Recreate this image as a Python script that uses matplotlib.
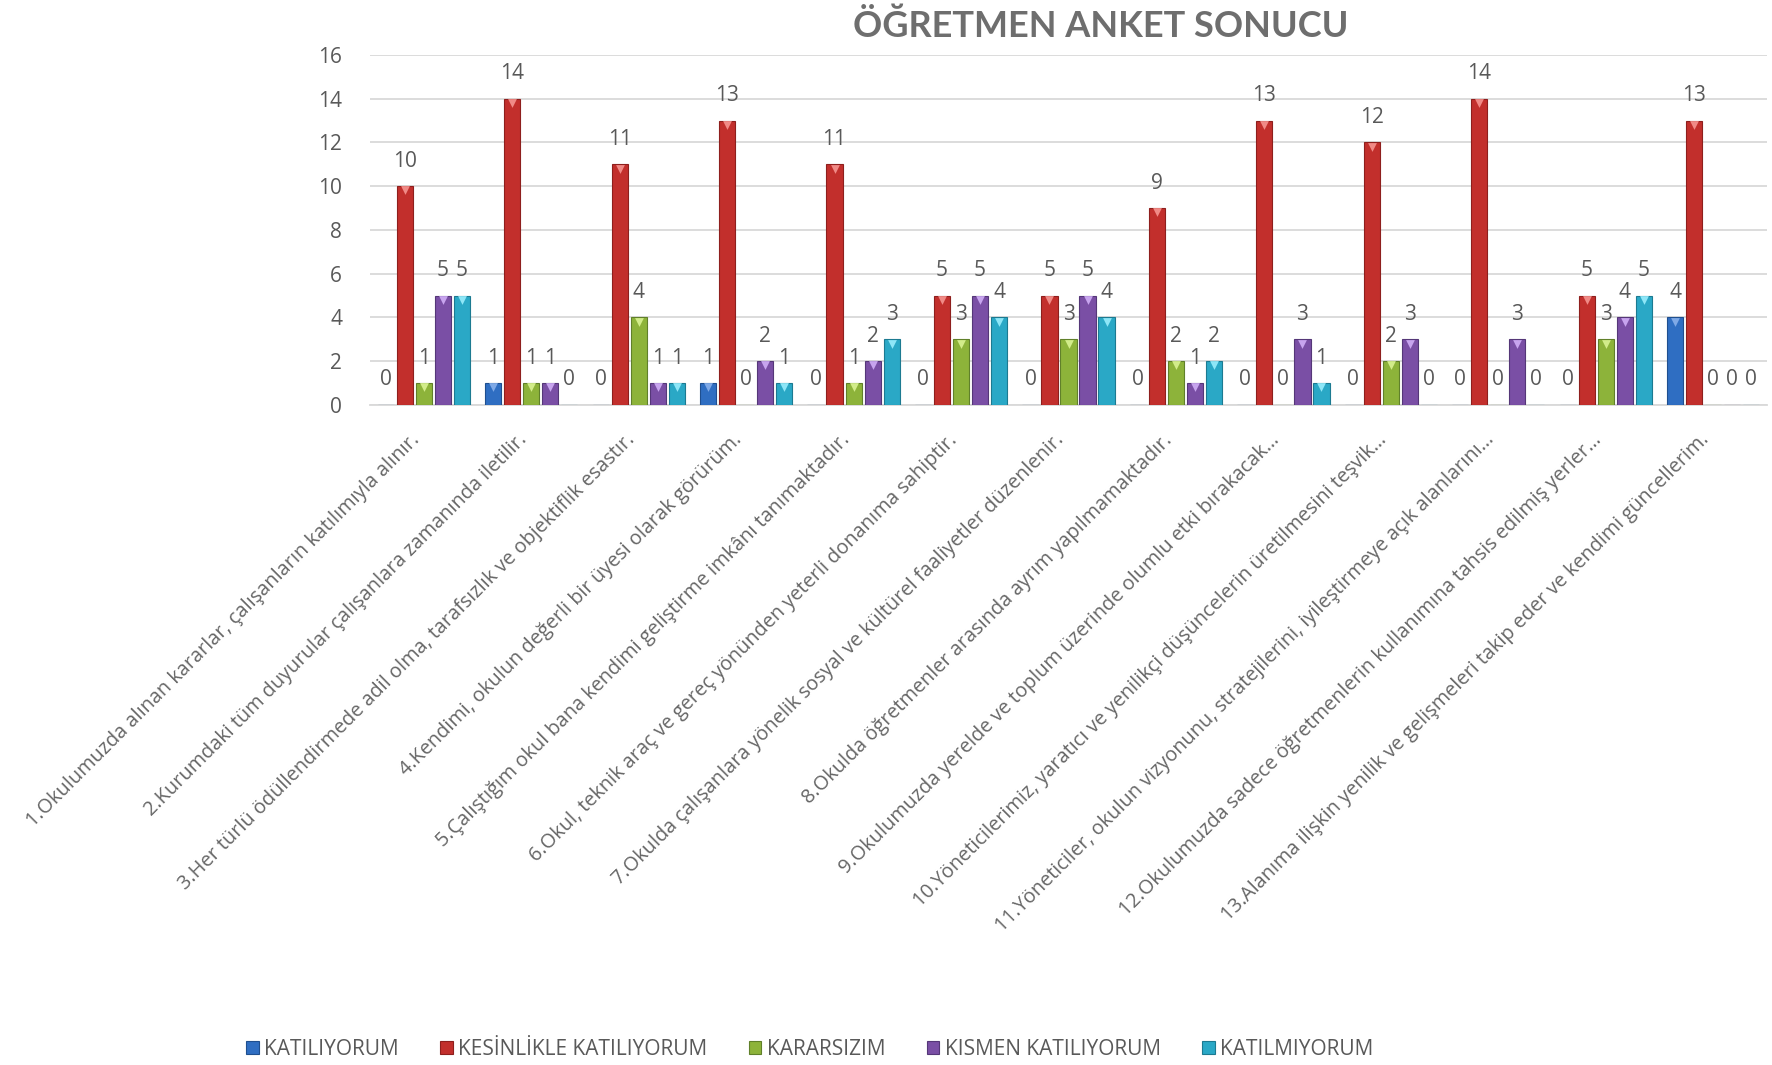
import numpy as np
import matplotlib
matplotlib.use("Agg")
import matplotlib.pyplot as plt
import matplotlib.transforms as mtransforms

# survey items (x axis)
questions = [
    "1.Okulumuzda alınan kararlar, çalışanların katılımıyla alınır.",
    "2.Kurumdaki tüm duyurular çalışanlara zamanında iletilir.",
    "3.Her türlü ödüllendirmede adil olma, tarafsızlık ve objektiflik esastır.",
    "4.Kendimi, okulun değerli bir üyesi olarak görürüm.",
    "5.Çalıştığım okul bana kendimi geliştirme imkânı tanımaktadır.",
    "6.Okul, teknik araç ve gereç yönünden yeterli donanıma sahiptir.",
    "7.Okulda çalışanlara yönelik sosyal ve kültürel faaliyetler düzenlenir.",
    "8.Okulda öğretmenler arasında ayrım yapılmamaktadır.",
    "9.Okulumuzda yerelde ve toplum üzerinde olumlu etki bırakacak…",
    "10.Yöneticilerimiz, yaratıcı ve yenilikçi düşüncelerin üretilmesini teşvik…",
    "11.Yöneticiler, okulun vizyonunu, stratejilerini, iyileştirmeye açık alanlarını…",
    "12.Okulumuzda sadece öğretmenlerin kullanımına tahsis edilmiş yerler…",
    "13.Alanıma ilişkin yenilik ve gelişmeleri takip eder ve kendimi güncellerim.",
]

series_names = ["KATILIYORUM", "KESİNLİKLE KATILIYORUM", "KARARSIZIM",
                "KISMEN KATILIYORUM", "KATILMIYORUM"]

katiliyorum = [0, 1, 0, 1, 0, 0, 0, 0, 0, 0, 0, 0, 4]
kesinlikle = [10, 14, 11, 13, 11, 5, 5, 9, 13, 12, 14, 5, 13]
kararsizim = [1, 1, 4, 0, 1, 3, 3, 2, 0, 2, 0, 3, 0]
kismen = [5, 1, 1, 2, 2, 5, 5, 1, 3, 3, 3, 4, 0]
katilmiyorum = [5, 0, 1, 1, 3, 4, 4, 2, 1, 0, 0, 5, 0]

colors = ["#2F6EC2", "#C22F2C", "#8DB33A", "#7A4FA5", "#2AA8C6"]
tops = ["#7FA9E6", "#F08A86", "#D2EC8A", "#C7A4EE", "#8EE6F7"]
edges = ["#1F4F8F", "#8E1F1D", "#60802A", "#553778", "#1C7A91"]

TXT = "#595959"
plt.rcParams["font.family"] = ["Open Sans", "DejaVu Sans"]

fig = plt.figure(figsize=(17.72, 10.65), dpi=100)
ax = fig.add_axes([370 / 1772, 1 - 405 / 1065, 1397 / 1772, 350 / 1065])

x = np.arange(len(questions))
step = 0.177
width = 0.150
data = [katiliyorum, kesinlikle, kararsizim, kismen, katilmiyorum]
label_off = mtransforms.offset_copy(ax.transData, fig=fig, x=0, y=18, units="points")
tri_off = mtransforms.offset_copy(ax.transData, fig=fig, x=0, y=-3, units="points")

for i, (name, vals) in enumerate(zip(series_names, data)):
    xs = x + (i - 2) * step
    vals = np.array(vals)
    ax.bar(xs, vals, width, color=colors[i], edgecolor=edges[i], linewidth=0.8,
           label=name, zorder=3)
    # bevel highlight on the bar tops
    nz = vals > 0
    ax.scatter(xs[nz], vals[nz], marker="v", s=40, color=tops[i], linewidths=0,
               transform=tri_off, zorder=4)
    for xi, v in zip(xs, vals):
        ax.text(xi, v, str(v), transform=label_off, ha="center", va="center",
                fontsize=15, color=TXT, zorder=5)

ax.set_xlim(-0.5, len(questions) - 0.5)
ax.set_ylim(0, 16)
ax.set_yticks(range(0, 17, 2))
ax.yaxis.grid(True, color="#D9D9D9", linewidth=1.3, zorder=0)
ax.set_axisbelow(True)
for s in ["top", "right", "left"]:
    ax.spines[s].set_visible(False)
ax.spines["bottom"].set_color("#D9D9D9")
ax.spines["bottom"].set_linewidth(1.3)
ax.tick_params(axis="y", length=0, pad=20, labelsize=15, labelcolor=TXT)
ax.tick_params(axis="x", length=0, pad=18)
ax.set_xticks(x)
ax.set_xticklabels(questions, rotation=45, ha="right", va="top",
                   fontsize=14.3, color="#666666")

fig.text(0.621, 0.975, "ÖĞRETMEN ANKET SONUCU", ha="center", va="center",
         fontsize=26, fontweight="bold", color="#6E6E6E", family=["Lato", "DejaVu Sans"])

fig.legend(loc="center", bbox_to_anchor=(0.457, 0.015), ncol=5, frameon=False,
           handlelength=0.6, handleheight=0.6, handletextpad=0.25, columnspacing=2.0,
           fontsize=15, labelcolor=TXT)

fig.savefig("out.png", dpi=100)
